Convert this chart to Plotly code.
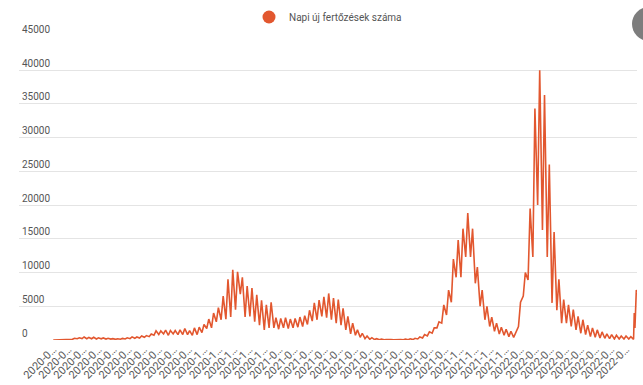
import pandas as pd
import plotly.graph_objects as go

# ---- data ----
start_date = "2020-02-26"
end_date = "2022-06-27"

# two readings per week: weekly trough (day 0) and weekly peak (day 3)
weekly_low = [
    0, 3, 10, 40, 100, 180, 220, 180, 190, 150,
    180, 140, 130, 100, 120, 150, 200, 250, 300, 400,
    500, 700, 800, 900, 700, 900, 800, 800, 800, 700,
    800, 1100, 1700, 1800, 2700, 3000, 3100, 3400, 4500, 6800,
    3400, 3500, 2700, 2200, 1500, 1800, 1800, 1600, 1800, 1700,
    1800, 1900, 2000, 2300, 2800, 3000, 3500, 3300, 3000, 2500,
    2200, 1500, 900, 700, 400, 200, 100, 60, 30, 20,
    15, 15, 20, 30, 40, 60, 150, 300, 600, 1000,
    1800, 2500, 3700, 5600, 9300, 9300, 12300, 12300, 8400, 5000,
    3000, 2000, 1300, 900, 700, 500, 400, 2000, 6500, 8900,
    12300, 20000, 16300, 12300, 5500, 4400, 2500, 2500, 2000, 1500,
    1000, 800, 500, 400, 300, 250, 200, 150, 150, 150,
    150,
]
weekly_high = [
    2, 10, 40, 100, 250, 330, 450, 380, 400, 320,
    300, 250, 200, 180, 230, 320, 460, 450, 600, 650,
    900, 1350, 1350, 1450, 1400, 1400, 1500, 1700, 1400, 1800,
    1900, 2300, 3100, 4000, 4800, 6500, 9000, 10400, 10100, 9300,
    8000, 7700, 6700, 5900, 5200, 5600, 3300, 3200, 3300, 3100,
    3200, 3400, 3600, 4400, 5500, 5900, 6400, 6900, 6200, 6000,
    4700, 3500, 2500, 1500, 1000, 600, 350, 200, 120, 80,
    60, 60, 80, 120, 180, 250, 450, 800, 1200, 1800,
    2700, 5200, 7400, 12000, 14800, 16500, 18800, 16500, 10800, 7400,
    5000, 3400, 2500, 1900, 1600, 1300, 1200, 5600, 10000, 19500,
    34300, 40000, 36300, 26000, 16000, 9000, 6000, 5200, 4500, 3500,
    3000, 2200, 1800, 1500, 1200, 900, 800, 700, 600, 600,
    500,
]
# last days, read individually
tail_dates = ["2022-06-22", "2022-06-23", "2022-06-24", "2022-06-26", "2022-06-27"]
tail_values = [100, 4000, 1800, 7400, 7100]

series_name = "Napi új fertőzések száma"
y_ticks = [0, 5000, 10000, 15000, 20000, 25000, 30000, 35000, 40000, 45000]
tick_every_days = 22

# ---- build series ----
t0 = pd.Timestamp(start_date)
t_end = pd.Timestamp(end_date)
xs, ys = [], []
for w, (lo, hi) in enumerate(zip(weekly_low, weekly_high)):
    xs.append(t0 + pd.Timedelta(days=7 * w))
    ys.append(lo)
    xs.append(t0 + pd.Timedelta(days=7 * w + 3))
    ys.append(hi)
for d, v in zip(tail_dates, tail_values):
    xs.append(pd.Timestamp(d))
    ys.append(v)

tick_dates = list(pd.date_range(t0, t_end, freq=f"{tick_every_days}D"))
tick_labels = [d.strftime("%Y-%m-%d")[:6] + "…" for d in tick_dates]

color = "#e2572f"
fig = go.Figure()
fig.add_trace(go.Scatter(
    x=xs, y=ys, mode="lines",
    line=dict(color=color, width=1.6),
    showlegend=False, name=series_name,
))
fig.add_trace(go.Scatter(
    x=[None], y=[None], mode="markers",
    marker=dict(color=color, size=13, symbol="circle"),
    name=series_name, showlegend=True,
))

fig.update_layout(
    width=643, height=385,
    margin=dict(l=19, r=6, t=36, b=45, autoexpand=False),
    paper_bgcolor="white", plot_bgcolor="white",
    font=dict(family="Roboto, 'Noto Sans', sans-serif", size=10, color="#555"),
    legend=dict(orientation="h", x=0.5, xanchor="center",
                yref="container", y=1 - 17 / 385, yanchor="middle",
                font=dict(size=10, color="#555"), bgcolor="rgba(0,0,0,0)"),
    xaxis=dict(
        type="date",
        range=[t0 - pd.Timedelta(days=50), t_end],
        tickvals=tick_dates, ticktext=tick_labels,
        tickangle=-45, showgrid=False, zeroline=False, showline=False,
        ticks="", tickfont=dict(size=11, color="#5a5a5a"),
    ),
    yaxis=dict(
        range=[0, 45060], tickvals=y_ticks, tickformat="d",
        ticklabelposition="inside top", ticklabeloverflow="allow",
        gridcolor="#e4e4e4", gridwidth=1, zeroline=False, showline=False,
        ticks="", tickfont=dict(size=10, color="#555"),
    ),
    shapes=[dict(
        type="circle", xref="paper", yref="paper",
        x0=1 + (632 - 637) / 618, x1=1 + (666 - 637) / 618,
        y0=1 + (36 - 41) / 304, y1=1 + (36 - 7) / 304,
        fillcolor="#7d7d7d", line=dict(width=0), layer="above",
    )],
)

fig.write_html("out.html", config={"displayModeBar": False},
               post_script="document.body.style.margin='0';")
